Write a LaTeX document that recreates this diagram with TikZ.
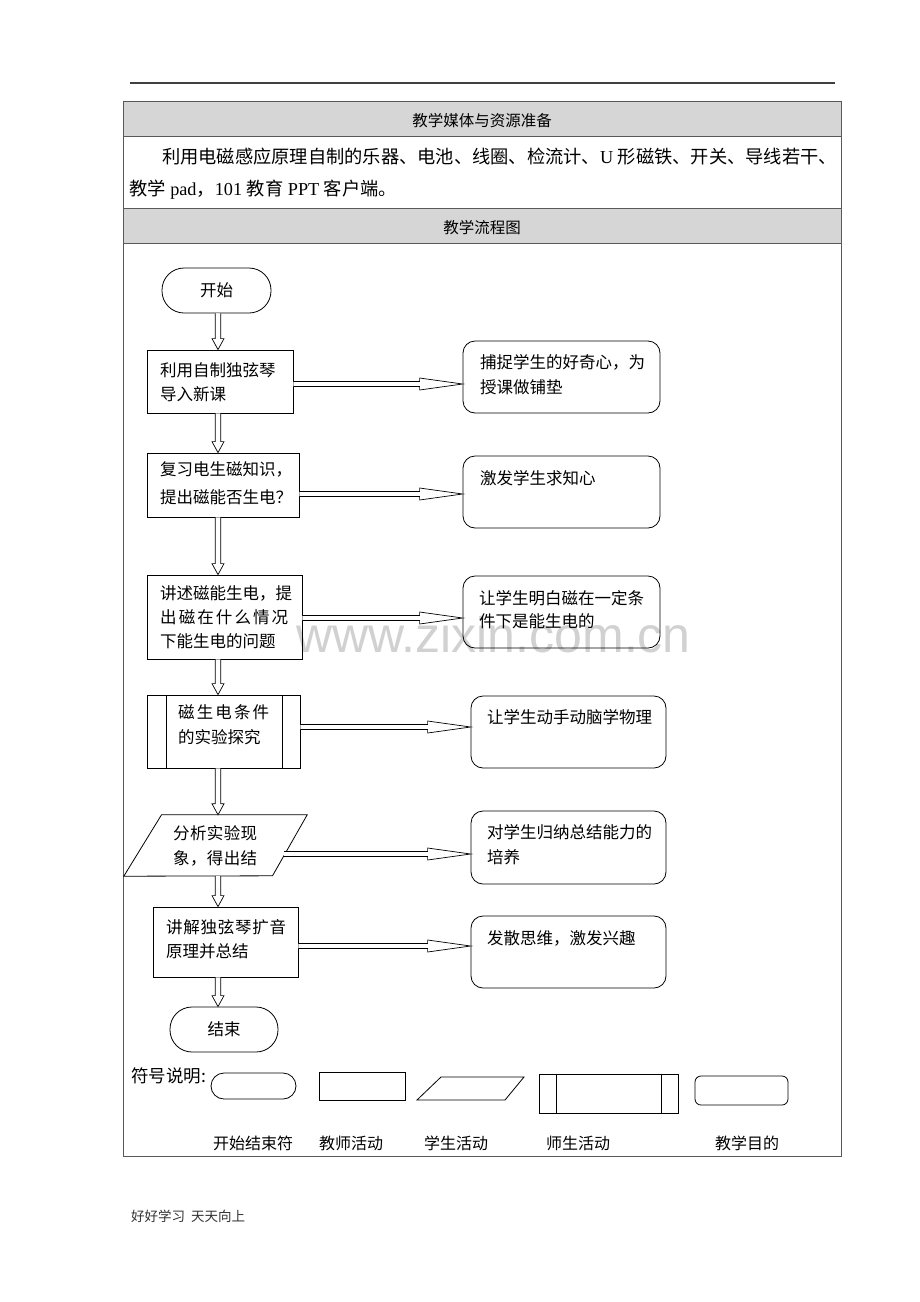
\documentclass[tikz,border=0pt]{standalone}
\usepackage{fontspec}
\setmainfont{Noto Sans CJK SC}
\newfontfamily\lat{Liberation Serif}
\newfontfamily\wmfont{Liberation Sans}
\usetikzlibrary{calc}
\newcommand\vflow[2]{%
  \draw[arr] ($(#1.south -| ax)+(-2.7,0)$) -- ($(#2.north -| ax)+(-2.7,-11)$) -- ($(#2.north -| ax)+(-6,-11)$) -- (#2.north -| ax) -- ($(#2.north -| ax)+(6,-11)$) -- ($(#2.north -| ax)+(2.7,-11)$) -- ($(#1.south -| ax)+(2.7,0)$);}
\newcommand\hflow[2]{%
  \draw[arr] ($(#1)+(0,-2.5)$) -- ($(#2)+(-43,-2.5)$) -- ($(#2)+(-43,-6)$) -- (#2) -- ($(#2)+(-43,6)$) -- ($(#2)+(-43,2.5)$) -- ($(#1)+(0,2.5)$);}
\begin{document}
\begin{tikzpicture}[x=1pt,y=-1pt,
  tline/.style={draw=black!65, line width=0.9pt},
  hdr/.style={fill=black!16, draw=black!65, line width=0.9pt},
  box/.style={draw=black, line width=0.8pt, inner sep=0pt, rectangle},
  goal/.style={box, rounded corners=12pt, minimum width=197pt, minimum height=72pt},
  term/.style={box, rounded corners=22pt, minimum width=109pt, minimum height=45pt},
  ft/.style={anchor=west, inner sep=0pt, font=\fontsize{16.5}{20}\selectfont},
  arr/.style={draw=black, fill=white, line width=0.7pt, line join=miter}]
\useasboundingbox (0,0) rectangle (920,1302);
\fill[white] (0,0) rectangle (920,1302);

% top rule
\draw[black!75, line width=1.3pt] (130,83) -- (835,83);

% table
\path[hdr] (123,101) rectangle (841,136);
\path[hdr] (123,208) rectangle (841,243);
\draw[tline] (123,101) rectangle (841,1156);
\node[inner sep=0pt, font=\fontsize{15.5}{18}\selectfont] (h1) at (482,121) {教学媒体与资源准备};
\node[inner sep=0pt, font=\fontsize{15.5}{18}\selectfont] (h2) at (482,228) {教学流程图};
\node[anchor=west, inner sep=0pt, font=\fontsize{18.25}{22}\selectfont] (t1) at (162,157) {利用电磁感应原理自制的乐器、电池、线圈、检流计、{\lat U }形磁铁、开关、导线若干、};
\node[anchor=west, inner sep=0pt, font=\fontsize{18.25}{22}\selectfont] (t2) at (129,190) {教学{\lat\ pad}，{\lat 101 }教育{\lat\ PPT }客户端。};

% watermark
\node[anchor=base west, inner sep=0pt, text=black!18, font=\wmfont\fontsize{50}{50}\selectfont] (wm) at (296,652) {www.zixin.com.cn};

\coordinate (ax) at (218,0);

% flow nodes
\node[term] (s) at (216.5,290.5) {};
\node[font=\fontsize{16.5}{20}\selectfont, inner sep=0pt] at (s.center) {开始};

\node[box, minimum width=146pt, minimum height=63pt] (b1) at (220,381.5) {};
\node[ft] at (160,370) {利用自制独弦琴};
\node[ft] at (160,394) {导入新课};

\node[box, minimum width=152pt, minimum height=64pt] (b2) at (223,485) {};
\node[ft] at (160,469) {复习电生磁知识，};
\node[ft] at (160,497) {提出磁能否生电？};

\node[box, minimum width=155pt, minimum height=84pt] (b3) at (224.5,617) {};
\node[ft] at (160,593) {讲述磁能生电，提};
\node[ft] at (160,617) {\makebox[128pt][s]{出\hfil 磁\hfil 在\hfil 什\hfil 么\hfil 情\hfil 况}};
\node[ft] at (160,641) {下能生电的问题};

\node[box, minimum width=153pt, minimum height=73pt] (b4) at (223.5,731.5) {};
\draw[line width=0.8pt] (166,695) -- (166,768) (282,695) -- (282,768);
\node[ft] at (178,712) {\makebox[91pt][s]{磁\hfil 生\hfil 电\hfil 条\hfil 件}};
\node[ft] at (178,737) {的实验探究};

\node[inner sep=0pt, minimum width=183pt, minimum height=61pt] (p5) at (215.5,845.5) {};
\draw[line width=0.8pt, line join=miter] (p5.north west) ++(37.7,0) -- (p5.north east) -- ++(-34.7,61) -- (p5.south west) -- cycle;
\node[ft] at (173,833) {\makebox[84pt][s]{分\hfil 析\hfil 实\hfil 验\hfil 现}};
\node[ft] at (173,858) {\makebox[84pt][s]{象\hfil ，\hfil 得\hfil 出\hfil 结}};
\coordinate (p5r) at (284,854);

\node[box, minimum width=145pt, minimum height=70pt] (b6) at (225.5,942) {};
\node[ft] at (166,927) {\makebox[120pt][s]{讲\hfil 解\hfil 独\hfil 弦\hfil 琴\hfil 扩\hfil 音}};
\node[ft] at (166,951) {原理并总结};

\node[term, minimum width=108pt] (e) at (224,1029.5) {};
\node[font=\fontsize{16.5}{20}\selectfont, inner sep=0pt] at (e.center) {结束};

% goal boxes
\node[goal] (g1) at (561.5,377) {};
\node[ft] at (480,362) {捕捉学生的好奇心，为};
\node[ft] at (480,387) {授课做铺垫};
\node[goal] (g2) at (561.5,492) {};
\node[ft] at (480,478) {激发学生求知心};
\node[goal] (g3) at (561.5,612) {};
\node[ft] at (479,598) {让学生明白磁在一定条};
\node[ft] at (479,621) {件下是能生电的};
\node[goal, minimum width=195pt] (g4) at (568.5,732) {};
\node[ft] at (487,717) {让学生动手动脑学物理};
\node[goal, minimum width=195pt, minimum height=73pt] (g5) at (568.5,847.5) {};
\node[ft] at (487,832) {对学生归纳总结能力的};
\node[ft] at (487,857) {培养};
\node[goal, minimum width=195pt] (g6) at (568.5,952) {};
\node[ft] at (487,938) {发散思维，激发兴趣};

% vertical flows
\vflow{s}{b1}
\vflow{b1}{b2}
\vflow{b2}{b3}
\vflow{b3}{b4}
\vflow{b4}{p5}
\vflow{p5}{b6}
\vflow{b6}{e}

% horizontal flows
\coordinate (y1) at (0,384);
\coordinate (y2) at (0,494);
\coordinate (y3) at (0,618);
\coordinate (y4) at (0,727);
\coordinate (y6) at (0,946);
\hflow{b1.east |- y1}{g1.west |- y1}
\hflow{b2.east |- y2}{g2.west |- y2}
\hflow{b3.east |- y3}{g3.west |- y3}
\hflow{b4.east |- y4}{g4.west |- y4}
\hflow{p5r}{g5.west |- p5r}
\hflow{b6.east |- y6}{g6.west |- y6}

% legend
\node[anchor=west, inner sep=0pt, font=\fontsize{17.5}{20}\selectfont] (lg) at (131,1076) {符号说明:};
\node[box, rounded corners=13pt, minimum width=85pt, minimum height=26pt] (l1) at (253.5,1086) {};
\node[box, minimum width=86pt, minimum height=28pt] (l2) at (362,1086) {};
\draw[line width=0.8pt, line join=miter] (441,1077) -- (524,1077) -- (505,1100) -- (417,1100) -- cycle;
\node[box, minimum width=139pt, minimum height=39pt] (l4) at (608.5,1093.5) {};
\draw[line width=0.8pt] (556,1074) -- (556,1113) (661,1074) -- (661,1113);
\node[box, rounded corners=6pt, minimum width=93pt, minimum height=29pt] (l5) at (741.5,1090.5) {};
\node[inner sep=0pt, font=\fontsize{16}{18}\selectfont] at (253,1143) {开始结束符};
\node[inner sep=0pt, font=\fontsize{16}{18}\selectfont] at (351,1143) {教师活动};
\node[inner sep=0pt, font=\fontsize{16}{18}\selectfont] at (456,1143) {学生活动};
\node[inner sep=0pt, font=\fontsize{16}{18}\selectfont] at (578,1143) {师生活动};
\node[inner sep=0pt, font=\fontsize{16}{18}\selectfont] at (747,1143) {教学目的};

% footer
\node[anchor=west, inner sep=0pt, text=black!80, font=\fontsize{13.5}{16}\selectfont] (ftr) at (131,1216) {好好学习\hspace{6pt}天天向上};
\end{tikzpicture}
\end{document}
